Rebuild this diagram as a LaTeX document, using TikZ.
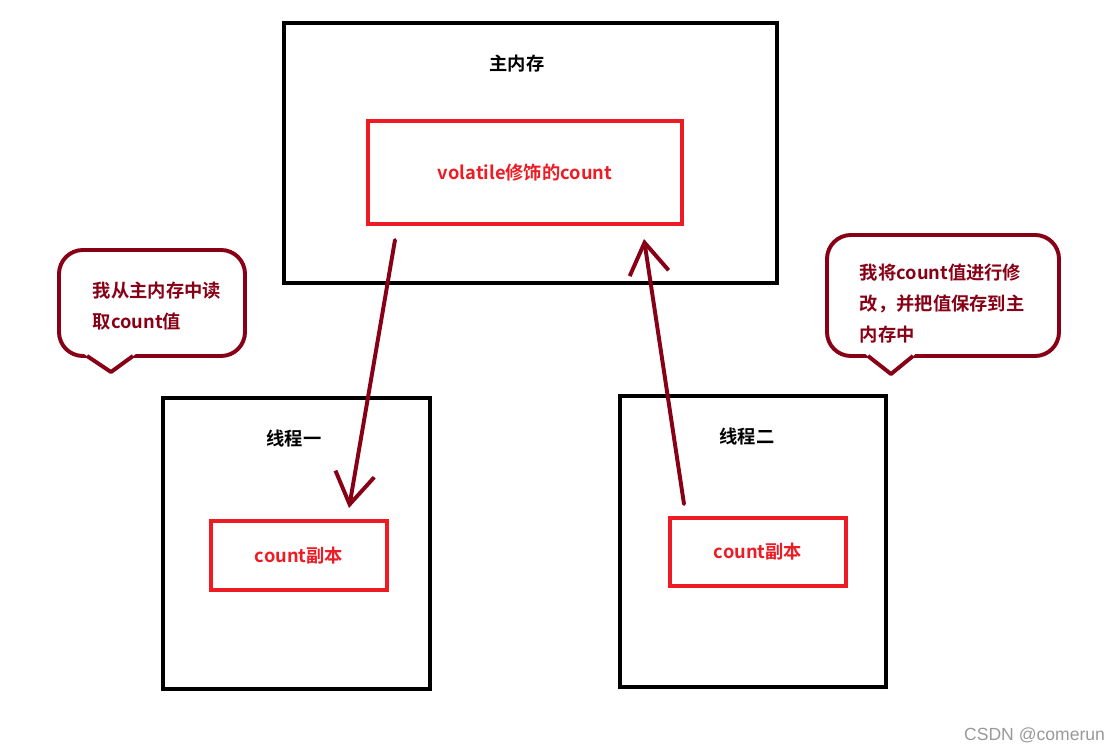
\documentclass[tikz,border=0pt]{standalone}
\usepackage{fontspec}
\setmainfont{Noto Sans CJK SC}[BoldFont=Noto Sans CJK SC Bold]
\newfontfamily\markfont{Liberation Sans}
\usetikzlibrary{arrows.meta,calc}
\definecolor{boxred}{HTML}{ED1C24}
\definecolor{inkred}{HTML}{880015}
\begin{document}
\begin{tikzpicture}[x=0.025cm, y=-0.025cm, font=\fontsize{13pt}{22pt}\selectfont\bfseries]
        \tikzset{mem/.style={draw=black, line width=2.8pt, minimum width=#1},
                 copybox/.style={draw=boxred, line width=2.8pt, text=boxred, minimum width=4.4cm},
                 flow/.style={draw=inkred, line width=2.8pt, line cap=round, -{Straight Barb[length=22pt, width=28pt, line width=2.8pt]}},
                 callout/.style={draw=inkred, line width=2.8pt, line join=round, rounded corners=17pt},
                 pointer/.style={draw=inkred, line width=2.8pt, line join=round},
                 note/.style={text=inkred, anchor=west, align=left}}
        \useasboundingbox (0,0) rectangle (1112,754);
        % main memory
        \node[mem=12.325cm, minimum height=6.5cm] (mainmem) at (530.5,153) {};
        \node (mainlbl) at (517,64) {主内存};
        \node[copybox, minimum width=7.85cm, minimum height=2.575cm] (vol) at (525,172.5) {volatile修饰的count};
        % threads
        \node[mem=6.675cm, minimum height=7.275cm] (thA) at (296.5,543.5) {};
        \node (thAlbl) at (294,439) {线程一};
        \node[copybox, minimum height=1.725cm] (copyA) at (299,555.5) {count副本};
        \node[mem=6.65cm, minimum height=7.275cm] (thB) at (753,541.5) {};
        \node (thBlbl) at (747,437) {线程二};
        \node[copybox, minimum height=1.7cm] (copyB) at (758,552) {count副本};
        % read / write back
        \draw[flow] ($(vol.south west)+(29,14)$) -- ($(copyA.north west)+(140,-11)$);
        \draw[flow] ($(copyB.north west)+(16,-12)$) -- ($(vol.south west)+(278,13)$);
        % speech bubbles
        \draw[callout] (59,250) rectangle (245,356);
        \fill[white] (81,352) -- (138.5,352) -- (111,372) -- cycle;
        \draw[pointer] (87,356) -- (111,372) -- (133,356);
        \node[note] (readnote) at (88,306) {我从主内存中读\\取count值};
        \draw[callout] (827,235) rectangle (1059,356);
        \fill[white] (862.9,352) -- (917.9,352) -- (891,374) -- cycle;
        \draw[pointer] (868,356) -- (891,374) -- (913,356);
        \node[note] (writenote) at (855,303.5) {我将count值进行修\\改，并把值保存到主\\内存中};
        \node[anchor=east, font=\markfont\fontsize{12.5pt}{14pt}\selectfont, text=black!40] (mark) at (1110,735) {CSDN @comerun};
\end{tikzpicture}
\end{document}
